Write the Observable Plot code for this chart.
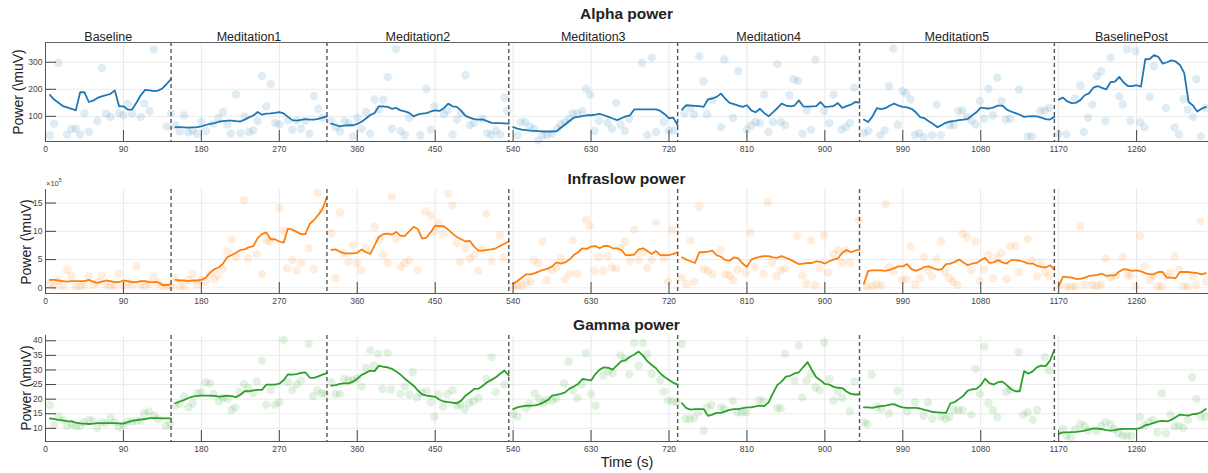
<!DOCTYPE html>
<html><head><meta charset="utf-8">
<script src="https://cdn.jsdelivr.net/npm/d3@7"></script>
<script src="https://cdn.jsdelivr.net/npm/@observablehq/plot@0.6"></script>
<style>
body{margin:0;background:#fff;font-family:"Liberation Sans",Arial,sans-serif;}
#root{position:relative;width:1208px;height:473px;overflow:hidden;background:#fff;}
#root svg{position:absolute;left:0;}
.title{position:absolute;left:45px;width:1163px;text-align:center;font-weight:bold;font-size:15.5px;line-height:18px;color:#222;}
.ylab{position:absolute;font-size:14px;line-height:16px;white-space:nowrap;color:#222;transform:translate(-50%,-50%) rotate(-90deg);}
.xlab{position:absolute;font-size:14.5px;line-height:16px;color:#222;transform:translate(-50%,-50%);}
.exp{position:absolute;font-size:7.5px;color:#444;}
.exp sup{font-size:5.5px;}
</style></head>
<body><div id="root"></div>
<script>
// ---------- categories / ticks ----------
const segNames = ["Baseline","Meditation1","Meditation2","Meditation3","Meditation4","Meditation5","BaselinePost"];
const segBounds = [0,145,325,535,730,940,1165,1343];
const lineStart = [5,150,330,540,735,945,1170]; // first smoothed sample (s) of each segment, 5 s step
const xTicks = [0,90,180,270,360,450,540,630,720,810,900,990,1080,1170,1260];
const alphaTicks = [100,200,300];
const infraTicks = [0,5,10,15];
const gammaTicks = [10,15,20,25,30,35,40];

// ---------- Alpha power ----------
const alphaLine = [
 [179,162,150,138,133,128,122,189,189,153,158,168,174,178,183,196,137,137,125,125,150,178,198,196,193,195,203,220,238],
 [60,60,59,58,59,60,63,68,72,75,80,82,84,84,82,81,88,96,103,116,106,110,111,113,116,111,98,86,84,87,90,88,88,91,95,100],
 [73,68,63,66,67,67,72,80,92,105,112,137,137,135,128,131,122,118,113,100,107,110,112,118,122,120,130,147,137,135,120,102,95,90,88,89,82,76,75,75,74,73],
 [60,55,51,49,47,46,45,44,44,44,45,58,70,83,95,98,101,104,104,106,109,104,98,92,86,93,100,104,126,126,126,126,126,126,120,108,93,95,67],
 [125,141,140,139,138,135,163,166,172,184,165,150,145,140,135,141,122,115,128,112,100,115,130,147,140,137,140,159,137,136,137,138,153,135,136,138,149,131,138,143,153,151],
 [88,79,100,130,127,130,140,147,140,135,133,128,115,97,93,82,72,60,68,77,81,83,86,88,91,103,115,132,130,129,133,140,140,125,118,112,106,98,100,101,100,95,90,88,98],
 [162,169,155,149,150,160,178,185,206,212,205,200,227,228,246,225,212,212,215,210,311,312,326,320,295,300,307,303,290,260,153,140,118,128,135]
];
const alphaDots = [
 [5,30],[10,73],[15,297],[25,33],[30,54],[35,54],[40,33],[45,112],[50,43],[60,83],[65,279],[70,110],[75,98],[85,112],[90,104],[95,147],[100,110],[110,98],[114,147],[120,120],[125,347],[140,63],[145,112],
 [150,67],[155,44],[160,104],[165,40],[170,48],[175,36],[180,79],[185,46],[194,73],[200,95],[205,116],[210,70],[214,36],[220,181],[225,38],[230,100],[235,42],[240,48],[245,83],[250,249],[255,137],[260,219],[265,75],[270,70],[280,85],[285,51],[290,85],[295,54],[300,83],[305,36],[310,175],[315,128],[320,95],
 [330,83],[335,60],[340,44],[345,83],[350,75],[355,26],[360,95],[365,54],[370,116],[375,36],[380,162],[385,125],[390,162],[395,246],[400,54],[405,348],[410,46],[415,30],[420,94],[433,30],[440,202],[445,51],[449,137],[460,107],[464,122],[470,33],[475,88],[480,112],[485,252],[490,67],[495,75],[505,91],[510,38],[515,30],[520,48],[525,33],[530,169],[533,120],
 [545,30],[549,79],[554,79],[559,63],[564,54],[569,11],[574,30],[579,30],[585,36],[591,54],[595,70],[600,79],[605,91],[609,112],[614,110],[620,120],[624,202],[629,181],[634,46],[639,83],[649,75],[654,54],[659,149],[664,70],[669,46],[674,91],[689,297],[695,30],[700,317],[705,42],[714,79],[720,48],[726,48],
 [738,110],[745,132],[749,107],[755,322],[760,230],[764,107],[770,159],[780,60],[784,310],[794,94],[800,267],[810,51],[815,67],[820,79],[825,75],[830,181],[835,42],[840,79],[845,293],[849,79],[854,67],[859,178],[864,237],[869,231],[874,36],[879,122],[884,51],[889,310],[899,120],[905,75],[910,181],[919,51],[924,60],[929,75],[934,206],
 [945,38],[950,46],[964,30],[969,48],[974,211],[979,351],[984,69],[990,193],[994,184],[999,162],[1004,30],[1009,38],[1014,23],[1024,30],[1029,144],[1034,30],[1044,67],[1049,67],[1054,120],[1059,122],[1064,98],[1069,85],[1074,70],[1079,157],[1084,91],[1089,202],[1094,104],[1099,243],[1104,157],[1109,88],[1114,91],[1124,199],[1134,26],[1139,26],[1149,120],[1154,122],[1159,132],
 [1170,36],[1179,33],[1189,167],[1195,215],[1199,42],[1204,95],[1209,143],[1214,248],[1219,267],[1224,83],[1230,317],[1240,174],[1244,144],[1249,348],[1253,83],[1259,341],[1264,79],[1269,60],[1275,172],[1280,285],[1294,131],[1304,58],[1309,33],[1314,163],[1319,125],[1325,98],[1329,237],[1334,26],[1340,132]
];

// ---------- Infraslow power (x10^5) ----------
const infraLine = [
 [1.4,1.4,1.3,1.2,1.1,1.2,1.2,1.2,1.2,1.4,1.1,0.9,1.1,1.3,1.2,1.0,1.0,1.3,1.2,1.0,1.0,1.2,1.2,1.0,1.0,1.0,0.5,0.5,0.6],
 [1.4,1.3,1.3,1.2,1.3,1.3,1.4,1.8,2.7,3.3,3.6,4.3,5.4,5.8,6.2,6.7,6.8,7.2,7.4,8.8,9.5,9.8,8.6,8.6,8.2,8.0,10.5,10.3,9.9,9.5,9.5,11.3,12.0,12.9,14.0,16.1],
 [6.7,6.8,6.4,6.1,6.1,6.1,6.2,6.8,6.3,6.0,7.5,9.0,9.5,9.6,9.4,9.9,9.2,9.2,10.0,10.8,10.4,8.7,8.9,9.9,11.0,10.9,10.9,10.3,9.6,9.0,8.6,8.2,8.3,7.3,6.6,6.6,6.7,6.8,7.0,7.4,7.8,8.2],
 [0.7,1.2,1.8,2.4,2.4,2.6,2.9,3.2,3.4,3.8,4.5,4.3,4.5,5.0,5.8,6.3,7.0,6.9,7.3,7.4,7.0,7.4,7.4,7.0,7.0,6.7,5.8,5.8,5.9,6.8,7.0,6.5,6.0,6.5,5.8,5.8,5.8,6.0,6.3],
 [5.4,5.0,4.7,4.4,6.3,6.3,6.4,6.6,5.8,5.5,4.9,4.8,5.4,5.2,4.3,3.7,5.0,5.3,5.5,5.6,5.6,5.4,5.3,5.6,5.3,5.0,4.6,4.2,4.3,4.4,4.4,4.7,4.6,4.3,4.7,5.0,5.2,6.2,6.7,6.3,6.6,6.7],
 [0.7,3.0,3.1,3.1,3.1,3.0,3.2,3.5,3.8,3.8,4.2,3.3,3.0,3.3,3.7,3.8,3.5,3.2,3.3,4.2,4.3,4.6,5.0,4.5,4.0,4.3,4.4,4.9,5.3,4.4,4.5,4.9,4.5,4.3,4.9,4.9,4.8,4.6,4.3,4.3,3.9,3.7,3.6,4.0,3.2],
 [0.3,2.0,1.9,1.8,1.6,1.6,1.8,2.1,2.2,2.3,2.5,2.1,2.2,2.2,2.9,3.3,3.2,3.0,3.1,2.9,2.6,2.4,2.4,2.8,2.8,1.8,1.8,1.7,2.8,2.8,2.8,2.7,2.6,2.4,2.6]
];
const infraDots = [
 [5,0.8],[10,0.3],[15,1.2],[20,0.3],[25,3.2],[30,2.1],[35,0.2],[40,0.3],[45,0.5],[50,2.1],[55,0.5],[60,1.0],[65,2.2],[70,0.6],[75,0.3],[80,0.4],[85,2.5],[90,0.3],[95,0.9],[100,0.6],[105,3.8],[110,0.6],[115,0.3],[120,0.8],[125,2.0],[130,0.9],[135,0.3],[140,0.3],[145,0.3],
 [150,1.7],[155,0.3],[160,0.2],[165,1.4],[170,2.4],[175,0.6],[180,1.4],[185,1.1],[190,2.5],[195,1.5],[199,2.2],[205,3.4],[210,6.4],[215,8.6],[220,5.5],[229,15.5],[234,5.2],[244,5.9],[250,2.4],[255,8.4],[259,8.2],[270,14.1],[275,10.1],[279,3.4],[285,4.9],[290,3.0],[295,4.4],[304,7.0],[310,3.3],[314,16.8],[320,13.8],
 [330,9.7],[335,1.7],[340,13.3],[345,6.1],[350,4.6],[355,7.6],[360,4.4],[365,3.1],[370,7.0],[380,10.8],[385,8.6],[390,5.8],[395,4.4],[400,16.1],[405,8.6],[410,3.7],[415,4.4],[420,4.9],[430,3.1],[439,13.5],[445,12.7],[450,10.0],[454,11.4],[459,9.5],[465,16.7],[470,14.6],[475,7.9],[479,4.6],[485,7.0],[490,5.2],[495,5.8],[500,3.0],[504,6.8],[509,13.1],[515,4.8],[525,9.3],[529,5.4],
 [540,0.2],[545,0.3],[550,0.3],[555,0.9],[560,1.1],[564,4.9],[569,4.3],[574,8.2],[579,1.4],[585,3.1],[590,3.6],[595,5.2],[600,1.5],[605,2.5],[609,8.4],[614,2.5],[624,12.1],[629,11.0],[634,3.0],[639,5.5],[644,3.0],[649,5.6],[654,3.6],[659,3.4],[664,7.0],[669,8.2],[675,4.8],[680,10.3],[685,4.9],[690,6.4],[695,3.5],[700,5.0],[705,11.5],[714,5.2],[719,1.1],[724,10.3],
 [735,1.8],[740,0.7],[745,8.4],[749,1.1],[755,14.4],[760,3.3],[765,3.0],[770,2.4],[780,6.7],[785,2.4],[790,2.2],[794,1.4],[799,3.2],[809,2.7],[814,9.8],[819,3.7],[829,2.5],[834,15.1],[839,4.4],[844,2.0],[849,3.1],[854,3.4],[868,9.2],[874,2.2],[879,0.8],[884,8.4],[889,0.5],[894,3.4],[899,9.3],[904,2.7],[910,5.9],[915,6.7],[920,4.4],[924,6.7],[929,4.4],[939,12.0],
 [949,0.2],[955,0.3],[960,0.6],[965,0.5],[970,14.8],[974,3.7],[979,2.9],[989,1.4],[994,1.5],[999,7.3],[1004,0.6],[1010,1.7],[1014,5.5],[1019,3.1],[1024,2.0],[1029,5.1],[1034,8.3],[1039,2.7],[1044,1.7],[1048,1.1],[1053,0.5],[1059,9.6],[1064,9.0],[1069,3.1],[1074,8.2],[1079,1.2],[1084,3.2],[1089,5.8],[1094,1.7],[1099,5.4],[1104,6.2],[1110,1.5],[1114,7.3],[1120,7.4],[1124,2.8],[1134,8.6],[1139,4.9],[1145,2.0],[1149,4.4],[1154,2.8],[1159,2.1],
 [1170,0.5],[1179,0.2],[1184,0.2],[1189,0.2],[1195,10.8],[1200,0.6],[1209,0.5],[1214,0.3],[1219,0.6],[1224,5.2],[1230,1.8],[1236,2.2],[1244,5.5],[1249,2.2],[1253,2.2],[1259,0.3],[1264,9.2],[1269,3.8],[1275,1.4],[1280,2.2],[1284,0.2],[1289,0.2],[1294,2.0],[1299,2.7],[1304,5.6],[1309,3.2],[1314,0.3],[1319,0.2],[1325,2.0],[1329,0.5],[1334,11.8],[1340,1.1]
];

// ---------- Gamma power ----------
const gammaLine = [
 [13.4,13.2,12.9,12.7,12.5,12.4,12.0,11.7,11.6,11.5,11.6,11.8,11.8,11.8,11.8,11.8,11.7,11.6,12.1,12.6,12.8,13.0,13.2,13.5,13.5,13.5,13.4,13.4,13.4],
 [18.6,19.2,19.7,20.4,20.9,21.1,21.2,21.2,21.2,21.1,20.9,21.0,21.2,21.0,20.7,21.5,22.7,22.7,23.0,23.2,23.2,25.0,25.0,25.0,25.3,26.5,28.5,28.4,28.6,29.0,29.2,27.4,27.3,27.8,28.4,28.9],
 [24.6,24.8,25.2,25.4,25.4,26.0,27.0,28.3,29.0,29.8,29.6,31.5,31.1,30.9,30.4,29.5,28.4,27.0,25.8,24.6,23.0,21.6,21.2,21.0,20.8,19.8,19.2,19.0,18.8,18.6,19.5,21.2,22.3,23.5,23.6,24.6,25.8,26.6,27.5,28.7,29.8,28.1],
 [16.6,17.2,17.5,17.7,17.8,17.9,18.2,18.9,19.7,21.2,21.5,21.8,22.3,23.6,24.3,25.2,26.9,26.7,26.4,28.6,30.1,30.9,30.7,30.1,31.6,33.0,33.4,34.5,35.3,36.3,34.9,33.0,31.7,30.6,28.8,27.6,26.6,25.6,25.0],
 [18.6,16.9,16.4,16.6,16.6,16.6,14.3,14.7,15.3,15.3,15.8,16.3,16.6,16.6,16.9,17.2,17.2,17.5,17.8,17.6,18.9,22.0,24.8,26.0,27.7,28.0,28.8,29.2,31.0,32.7,30.0,27.5,26.5,25.2,25.0,24.2,23.9,23.8,22.6,21.8,21.6,21.6],
 [17.2,17.2,17.0,17.4,17.6,17.8,18.1,18.3,17.6,17.2,17.0,17.0,17.0,16.8,16.3,16.0,15.6,15.5,15.4,15.3,18.6,19.0,20.1,21.2,22.9,23.4,23.5,24.8,27.0,25.5,25.0,25.8,26.0,24.8,23.4,22.7,22.7,29.6,28.7,29.5,31.0,31.5,31.3,33.2,36.9],
 [8.1,8.6,8.6,8.7,8.8,9.0,9.2,9.6,10.0,9.9,9.7,9.4,9.2,9.4,9.7,9.8,9.8,9.8,9.8,10.2,11.1,11.4,11.9,12.4,12.6,12.4,12.9,13.8,14.7,14.5,14.4,14.9,15.0,15.6,16.6]
];
const gammaDots = [
 [5,18.0],[10,11.1],[15,14.0],[20,12.9],[25,10.9],[30,11.5],[35,10.6],[40,10.9],[44,12.1],[50,12.9],[55,12.6],[60,10.1],[65,12.1],[70,11.7],[75,13.5],[80,12.1],[85,10.3],[90,11.1],[95,12.4],[100,12.3],[105,12.6],[110,12.6],[114,15.1],[119,15.8],[125,14.3],[130,13.2],[139,10.9],[144,11.5],
 [150,17.8],[155,18.4],[160,20.9],[165,17.2],[170,18.6],[175,22.0],[180,22.4],[185,25.8],[190,25.4],[194,21.8],[200,19.3],[205,20.4],[210,20.1],[215,16.3],[219,17.2],[224,22.4],[229,25.2],[234,23.8],[240,22.0],[244,26.1],[250,33.2],[255,18.1],[260,23.2],[265,18.1],[270,18.9],[275,40.3],[280,25.8],[285,23.0],[290,25.0],[295,26.4],[304,38.9],[309,21.0],[314,23.0],[319,22.0],[323,21.8],
 [330,25.8],[335,21.8],[340,21.8],[345,26.9],[350,26.4],[355,26.6],[360,27.2],[365,24.3],[370,30.7],[375,36.7],[379,31.5],[384,35.5],[389,23.5],[395,35.9],[399,23.3],[410,21.8],[415,24.3],[420,21.6],[424,29.2],[429,20.6],[434,22.1],[440,22.7],[445,18.9],[449,14.0],[454,21.6],[459,17.4],[464,21.8],[470,23.0],[475,17.8],[479,18.1],[484,16.6],[489,18.6],[494,19.3],[500,20.4],[509,26.9],[515,34.4],[520,22.4],[530,25.0],
 [540,14.9],[545,14.0],[555,17.0],[559,18.4],[565,22.0],[570,20.1],[575,18.6],[579,19.7],[585,19.5],[590,20.1],[599,25.4],[604,32.9],[609,23.0],[614,20.4],[619,25.0],[624,35.7],[630,21.8],[635,17.8],[644,28.1],[650,29.6],[655,28.9],[664,35.0],[669,33.8],[674,28.4],[680,39.3],[685,31.5],[690,39.3],[695,35.3],[700,28.6],[710,26.6],[714,22.6],[719,19.5],[724,19.3],[729,18.9],
 [735,38.9],[739,13.2],[744,13.2],[749,13.5],[754,15.5],[760,9.2],[764,17.2],[769,18.1],[780,17.2],[784,16.6],[794,19.5],[799,15.5],[804,15.5],[809,15.5],[824,19.7],[829,19.3],[845,16.9],[849,16.9],[854,35.5],[865,26.4],[870,38.4],[874,20.6],[879,26.4],[884,28.6],[889,24.1],[894,23.0],[899,39.5],[905,26.9],[910,19.5],[915,22.7],[920,20.4],[929,15.8],[934,26.1],
 [945,12.1],[949,11.5],[954,28.4],[960,17.4],[965,16.6],[974,15.1],[984,22.9],[995,15.8],[1004,18.9],[1014,14.3],[1019,18.9],[1024,13.2],[1034,14.0],[1039,13.2],[1044,14.0],[1049,16.3],[1054,16.3],[1059,16.3],[1069,14.7],[1074,30.4],[1079,21.8],[1084,38.0],[1089,18.6],[1094,16.3],[1099,13.8],[1109,22.4],[1114,23.2],[1124,36.1],[1129,14.7],[1134,15.5],[1140,12.9],[1145,16.3],[1154,34.4],[1159,29.8],
 [1175,9.8],[1179,7.5],[1184,6.9],[1189,9.8],[1195,11.5],[1200,10.9],[1204,9.2],[1214,9.0],[1219,10.9],[1224,12.1],[1230,11.5],[1234,9.8],[1239,8.3],[1244,7.5],[1249,7.5],[1254,7.5],[1264,13.8],[1269,10.9],[1274,12.1],[1279,12.9],[1284,8.6],[1289,22.0],[1294,8.3],[1299,14.7],[1304,10.6],[1309,10.9],[1314,10.1],[1319,12.9],[1324,27.5],[1329,20.1],[1334,14.0],[1340,14.0]
];

// ---------- build ----------
const W = 1208, ML = 45, MR = 0;
const root = document.getElementById("root");

function toLine(series){
  const out = [];
  series.forEach((vals, s) => vals.forEach((v, i) => out.push({t: lineStart[s] + 5*i, v, seg: s})));
  return out;
}
function toDots(arr){ return arr.map(([t, v]) => ({t, v})); }

function panel({top, height, mTop, mBottom, yDomain, yTicks, color, dotOpacity, line, dots, segLabels}){
  const plotH = height - mTop - mBottom;
  const plotW = W - ML - MR;
  const mids = segNames.map((n, i) => ({name: n, x: (segBounds[i] + segBounds[i+1]) / 2}));
  const marks = [
    Plot.gridX({ticks: xTicks, stroke: "#e8e8e8", strokeOpacity: 1, strokeWidth: 1}),
    Plot.gridY({ticks: yTicks, stroke: "#ebebeb", strokeOpacity: 1, strokeWidth: 1}),
    Plot.dot(toDots(dots), {x: "t", y: "v", r: 4.2, fill: color, fillOpacity: dotOpacity, stroke: "none"}),
    Plot.line(toLine(line), {x: "t", y: "v", z: "seg", stroke: color, strokeWidth: 1.8, strokeLinejoin: "round"}),
    Plot.ruleX(segBounds.slice(1, -1), {stroke: "#555", strokeWidth: 1.4, strokeDasharray: "4,3"}),
    Plot.ruleX([segBounds[0]], {stroke: "#555", strokeWidth: 1}),
    Plot.ruleY([yDomain[0]], {stroke: "#555", strokeWidth: 1}),
    Plot.tickY(yTicks, {stroke: "#444", strokeWidth: 1, insetRight: plotW - 11}),
    Plot.tickX(xTicks, {stroke: "#444", strokeWidth: 1, insetTop: plotH - 11}),
    Plot.axisX({ticks: xTicks, tickSize: 0, tickPadding: 4, tickFormat: d => String(d), label: null, fill: "#444"}),
    Plot.axisY({ticks: yTicks, tickSize: 0, tickPadding: 3, tickFormat: d => String(d), label: null, fill: "#444"})
  ];
  if (segLabels) {
    marks.push(Plot.ruleY([yDomain[1]], {stroke: "#666", strokeWidth: 1}));
    marks.push(Plot.text(mids, {x: "x", frameAnchor: "top", dy: -10, text: "name", fontSize: 12.5, fill: "#222"}));
  }
  const svg = Plot.plot({
    width: W, height, marginLeft: ML, marginRight: MR, marginTop: mTop, marginBottom: mBottom,
    x: {domain: [segBounds[0], segBounds[segBounds.length-1]]},
    y: {domain: yDomain},
    style: {fontFamily: '"Liberation Sans", Arial, sans-serif', fontSize: "8.5px", background: "transparent", overflow: "visible"},
    marks
  });
  svg.style.top = top + "px";
  root.appendChild(svg);
}

panel({top: 0, height: 160, mTop: 42, mBottom: 19, yDomain: [7, 373], yTicks: alphaTicks,
  color: "#1f77b4", dotOpacity: 0.14, line: alphaLine, dots: alphaDots, segLabels: true});
panel({top: 160, height: 150, mTop: 29, mBottom: 17, yDomain: [-1, 17.4], yTicks: infraTicks,
  color: "#ff7f0e", dotOpacity: 0.14, line: infraLine, dots: infraDots, segLabels: false});
panel({top: 310, height: 150, mTop: 25, mBottom: 19, yDomain: [5.5, 41.8], yTicks: gammaTicks,
  color: "#2ca02c", dotOpacity: 0.14, line: gammaLine, dots: gammaDots, segLabels: false});

function addDiv(cls, html, style){
  const d = document.createElement("div");
  d.className = cls; d.innerHTML = html; Object.assign(d.style, style); root.appendChild(d);
}
addDiv("title", "Alpha power", {top: "5px"});
addDiv("title", "Infraslow power", {top: "170px"});
addDiv("title", "Gamma power", {top: "316px"});
addDiv("ylab", "Power (\\muV)", {left: "18px", top: "92px"});
addDiv("ylab", "Power (\\muV)", {left: "26px", top: "242px"});
addDiv("ylab", "Power (\\muV)", {left: "26px", top: "388px"});
addDiv("xlab", "Time (s)", {left: "627px", top: "462px"});
addDiv("exp", "×10<sup>5</sup>", {left: "46px", top: "177px"});
</script>
</body></html>
